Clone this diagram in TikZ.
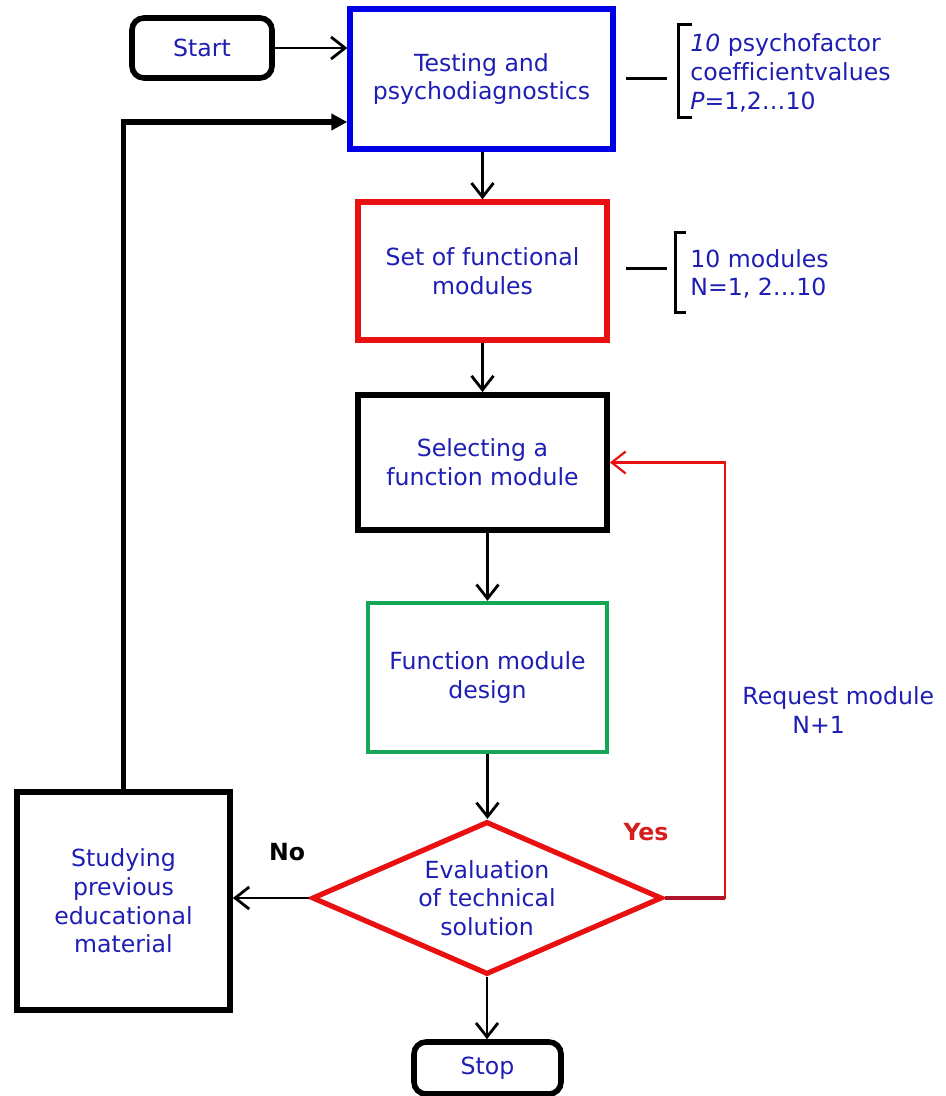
\documentclass[tikz,border=0pt]{standalone}
\usepackage{fontspec}
\setmainfont{DejaVu Sans}[Ligatures=NoCommon]
\usetikzlibrary{arrows.meta,shapes.geometric}
\definecolor{txtblue}{RGB}{30,30,180}
\definecolor{boxblue}{RGB}{0,0,230}
\definecolor{boxred}{RGB}{232,16,16}
\definecolor{boxgreen}{RGB}{20,165,85}
\definecolor{darkred}{RGB}{175,20,40}
\definecolor{yesred}{RGB}{215,30,30}
\tikzset{
  every node/.style={font=\fontsize{11.8pt}{14.3pt}\selectfont, text=txtblue, align=center},
  box/.style={draw, rectangle, line width=2.7pt, inner sep=0pt},
  term/.style={draw=black, rectangle, rounded corners=6pt, line width=2.8pt, inner sep=0pt},
  flow/.style={draw=black, line width=1.4pt, -{Straight Barb[length=7pt,width=11pt,line width=1.4pt]}},
  note/.style={align=left, anchor=west, inner sep=0pt},
  brk/.style={draw=black, line width=1.5pt}
}
\begin{document}
\begin{tikzpicture}[x=0.5pt,y=-0.5pt]
\useasboundingbox (0,0) rectangle (946,1096);
% nodes
\node[term, minimum width=70pt, minimum height=30pt] (start) at (202,48) {Start};
\node[box, draw=boxblue, minimum width=131.5pt, minimum height=70pt] (testing) at (481.5,79) {Testing and\\psychodiagnostics};
\node[box, draw=boxred, minimum width=124.5pt, minimum height=69pt] (set) at (482.5,271) {Set of functional\\modules};
\node[box, draw=black, line width=2.9pt, minimum width=124.5pt, minimum height=67.5pt] (select) at (482.5,462.5) {Selecting a\\function module};
\node[box, draw=boxgreen, line width=2.2pt, minimum width=119.5pt, minimum height=74.5pt] (design) at (487.5,677.5) {Function module\\design};
\node[draw=boxred, diamond, aspect=2.29, line width=2.6pt, inner sep=0pt, minimum width=175pt, minimum height=76.5pt] (eval) at (487,898) {Evaluation\\of technical\\solution};
\node[box, draw=black, line width=2.9pt, minimum width=106.5pt, minimum height=109pt] (study) at (123.5,901) {Studying\\previous\\educational\\material};
\node[term, minimum width=73.5pt, minimum height=26pt] (stop) at (487.5,1068) {Stop};
% notes
\node[note] (ann1) at (690,73) {\textit{10} psychofactor\\coefficientvalues\\\textit{P}=1,2…10};
\node[note] (ann2) at (690,274) {10 modules\\N=1, 2…10};
\node[note] (req) at (742,710) {Request module\\\hspace*{25pt}N+1};
\node[font=\fontsize{11.8pt}{14.3pt}\selectfont\bfseries, text=yesred] (yes) at (646,832) {Yes};
\node[font=\fontsize{11.8pt}{14.3pt}\selectfont\bfseries, text=black] (no) at (287,852) {No};
% brackets
\draw[brk] (626,79) -- (667,79);
\draw[brk] (692,25) -| (678,118) -- (692,118);
\draw[brk] (626,269) -- (667,269);
\draw[brk] (686,233) -| (675,313) -- (686,313);
% connectors
\draw[flow] (start.east) -- (start.east -| testing.west);
\draw[draw=black, line width=2.8pt, -{Triangle[length=8pt,width=8pt]}] (study.north) |- ([yshift=-21.5pt]testing.west);
\draw[flow] (set.north |- testing.south) -- (set.north);
\draw[flow] (set.south) -- (select.north);
\draw[flow] (select.south -| design.north) -- (design.north);
\draw[flow] (design.south) -- (design.south |- eval.north);
\draw[flow] (eval.south) -- (eval.south |- stop.north);
\draw[flow] (eval.west) -- (eval.west -| study.east);
\draw[draw=boxred, line width=1.1pt, -{Straight Barb[length=7pt,width=11pt,line width=1.1pt]}] (eval.east) -- ++(60,0) |- (select.east);
\draw[draw=darkred, line width=2.2pt] (eval.east) -- ++(60,0);
\end{tikzpicture}
\end{document}
